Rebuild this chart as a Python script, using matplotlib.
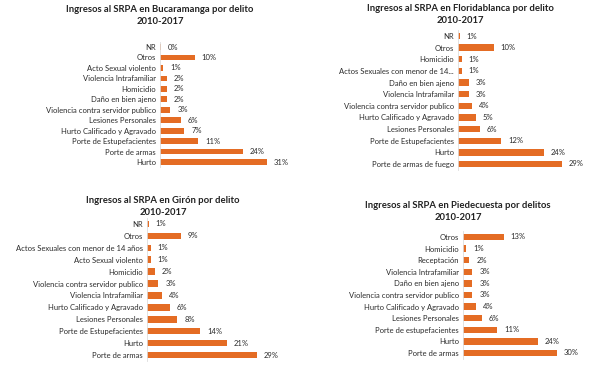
import matplotlib
matplotlib.use("Agg")
import matplotlib.pyplot as plt

plt.rcParams['font.family'] = ['Lato', 'DejaVu Sans']

W, H = 589, 372
ORANGE = '#E46C24'

buc_cats = ["NR", "Otros", "Acto Sexual violento", "Violencia Intrafamiliar", "Homicidio",
            "Daño en bien ajeno", "Violencia contra servidor publico", "Lesiones Personales",
            "Hurto Calificado y Agravado", "Porte de Estupefacientes", "Porte de armas", "Hurto"]
buc_vals = [0.3, 10, 1, 2, 2, 2, 3, 6, 7, 11, 24, 31]
buc_labels = ["0%", "10%", "1%", "2%", "2%", "2%", "3%", "6%", "7%", "11%", "24%", "31%"]

flo_cats = ["NR", "Otros", "Homicidio", "Actos Sexuales con menor de 14...", "Daño en bien ajeno",
            "Violencia Intrafamilar", "Violencia contra servidor publico", "Hurto Calificado y Agravado",
            "Lesiones Personales", "Porte de Estupefacientes", "Hurto", "Porte de armas de fuego"]
flo_vals = [0.5, 10, 1, 1, 3, 3, 4, 5, 6, 12, 24, 29]
flo_labels = ["1%", "10%", "1%", "1%", "3%", "3%", "4%", "5%", "6%", "12%", "24%", "29%"]

gir_cats = ["NR", "Otros", "Actos Sexuales con menor de 14 años", "Acto Sexual violento", "Homicidio",
            "Violencia contra servidor publico", "Violencia Intrafamiliar", "Hurto Calificado y Agravado",
            "Lesiones Personales", "Porte de Estupefacientes", "Hurto", "Porte de armas"]
gir_vals = [0.5, 9, 1, 1, 2, 3, 4, 6, 8, 14, 21, 29]
gir_labels = ["1%", "9%", "1%", "1%", "2%", "3%", "4%", "6%", "8%", "14%", "21%", "29%"]

pie_cats = ["Otros", "Homicidio", "Receptación", "Violencia Intrafamiliar", "Daño en bien ajeno",
            "Violencia contra servidor publico", "Hurto Calificado y Agravado", "Lesiones Personales",
            "Porte de estupefacientes", "Hurto", "Porte de armas"]
pie_vals = [13, 1, 2, 3, 3, 3, 4, 6, 11, 24, 30]
pie_labels = ["13%", "1%", "2%", "3%", "3%", "3%", "4%", "6%", "11%", "24%", "30%"]

titles = ["Ingresos al SRPA en Bucaramanga por delito\n2010-2017",
          "Ingresos al SRPA en Floridablanca por delito\n2010-2017",
          "Ingresos al SRPA en Girón por delito\n2010-2017",
          "Ingresos al SRPA en Piedecuesta por delitos\n2010-2017"]

fig = plt.figure(figsize=(W / 100, H / 100), dpi=100)
fig.patch.set_facecolor('white')

# (left px, top px, width px, height px, px per %, title center x px, title top y px)
layouts = [
    (160, 41.8, 125, 125.5, 3.45, 160, 5),
    (458, 30.2, 115, 139.6, 3.59, 460, 4),
    (147, 218.0, 125, 143.0, 3.79, 163, 196),
    (463, 231.2, 115, 127.6, 3.13, 458, 201),
]
datasets = [(buc_cats, buc_vals, buc_labels), (flo_cats, flo_vals, flo_labels),
            (gir_cats, gir_vals, gir_labels), (pie_cats, pie_vals, pie_labels)]

for (l, t, w, h, scale, tcx, tty), (cats, vals, labs), title in zip(layouts, datasets, titles):
    ax = fig.add_axes([l / W, 1 - (t + h) / H, w / W, h / H])
    n = len(cats)
    ys = list(range(n))
    ax.barh(ys, vals, height=0.55, color=ORANGE)
    ax.set_ylim(n - 0.5, -0.5)
    ax.set_xlim(0, w / scale)
    ax.set_yticks(ys)
    ax.set_yticklabels(cats, fontsize=5.5, color='#2b2b2b')
    ax.tick_params(axis='y', length=0, pad=3)
    ax.set_xticks([])
    for s in ['top', 'right', 'bottom']:
        ax.spines[s].set_visible(False)
    ax.spines['left'].set_color('#dddddd')
    ax.spines['left'].set_linewidth(0.6)
    for y, v, lab in zip(ys, vals, labs):
        ax.annotate(lab, (v, y), xytext=(5, 0), textcoords='offset points',
                    va='center', ha='left', fontsize=5.5, color='#2b2b2b')
    fig.text(tcx / W, 1 - tty / H, title, ha='center', va='top', fontsize=6.8,
             fontweight='bold', color='#222222', linespacing=1.45)

fig.savefig('out.png', dpi=100, facecolor='white')
